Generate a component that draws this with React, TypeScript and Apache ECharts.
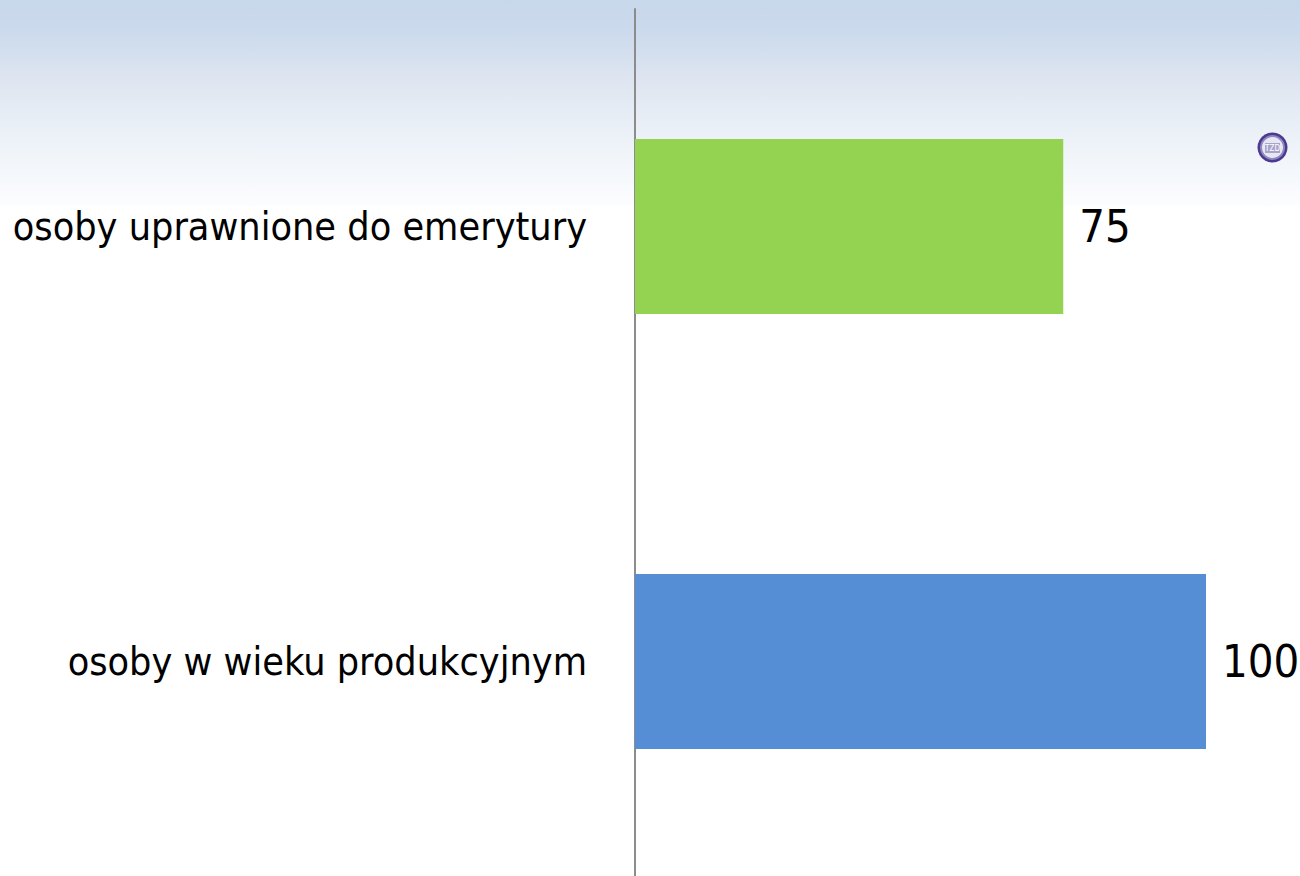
import React, { useEffect, useRef } from "react";
import * as echarts from "echarts";

const categories = ["osoby w wieku produkcyjnym", "osoby uprawnione do emerytury"];
const values = [100, 75];
const barColors = ["#558ED5", "#93D351"];
const FONT = "DejaVu Sans Condensed";

export default function App() {
  const ref = useRef<HTMLDivElement>(null);
  useEffect(() => {
    const chart = echarts.init(ref.current!, undefined, { renderer: "svg" });
    chart.setOption({
      animation: false,
      backgroundColor: "#ffffff",
      graphic: {
        elements: [
          {
            type: "rect",
            z: -10,
            silent: true,
            shape: { x: 0, y: 0, width: 1300, height: 206 },
            style: {
              fill: new echarts.graphic.LinearGradient(0, 0, 0, 1, [
                { offset: 0, color: "#c7d8ea" },
                { offset: 0.15, color: "#cbdaec" },
                { offset: 0.4, color: "#dfe6f1" },
                { offset: 0.7, color: "#eef3f9" },
                { offset: 1, color: "#fcfdfe" },
              ]),
            },
          },
          { type: "circle", z: 5, silent: true, shape: { cx: 1272.5, cy: 147.5, r: 15 }, style: { fill: "#4b3a8f" } },
          { type: "circle", z: 6, silent: true, shape: { cx: 1272.5, cy: 147.5, r: 12.5 }, style: { fill: "#8f88bd" } },
          { type: "circle", z: 6, silent: true, shape: { cx: 1272.5, cy: 147.5, r: 10.5 }, style: { fill: "#e6e7f2" } },
          { type: "rect", z: 7, silent: true, shape: { x: 1265, y: 143, width: 15, height: 10 }, style: { fill: "#a9a4cc" } },
          { type: "text", z: 8, silent: true, x: 1272.5, y: 148, style: { text: "TZD", fill: "#ffffff", fontSize: 8, fontFamily: FONT, align: "center", verticalAlign: "middle" } },
        ],
      },
      grid: { left: 635, top: 9, width: 571, height: 870, containLabel: false, outerBoundsMode: "none" },
      xAxis: { type: "value", min: 0, max: 100, show: false },
      yAxis: {
        type: "category",
        data: categories,
        axisTick: { show: false },
        axisLine: { show: true, lineStyle: { color: "#8c8c8c", width: 2 } },
        axisLabel: { color: "#000000", fontSize: 39.2, fontFamily: FONT, margin: 48 },
      },
      series: [
        {
          type: "bar",
          barWidth: 175,
          data: values.map((v, i) => ({ value: v, itemStyle: { color: barColors[i] } })),
          label: { show: true, position: "right", distance: 16, color: "#000000", fontSize: 45, fontFamily: FONT },
        },
      ],
    });
    return () => chart.dispose();
  }, []);
  return <div ref={ref} style={{ position: "absolute", left: 0, top: 0, width: 1300, height: 876 }} />;
}
